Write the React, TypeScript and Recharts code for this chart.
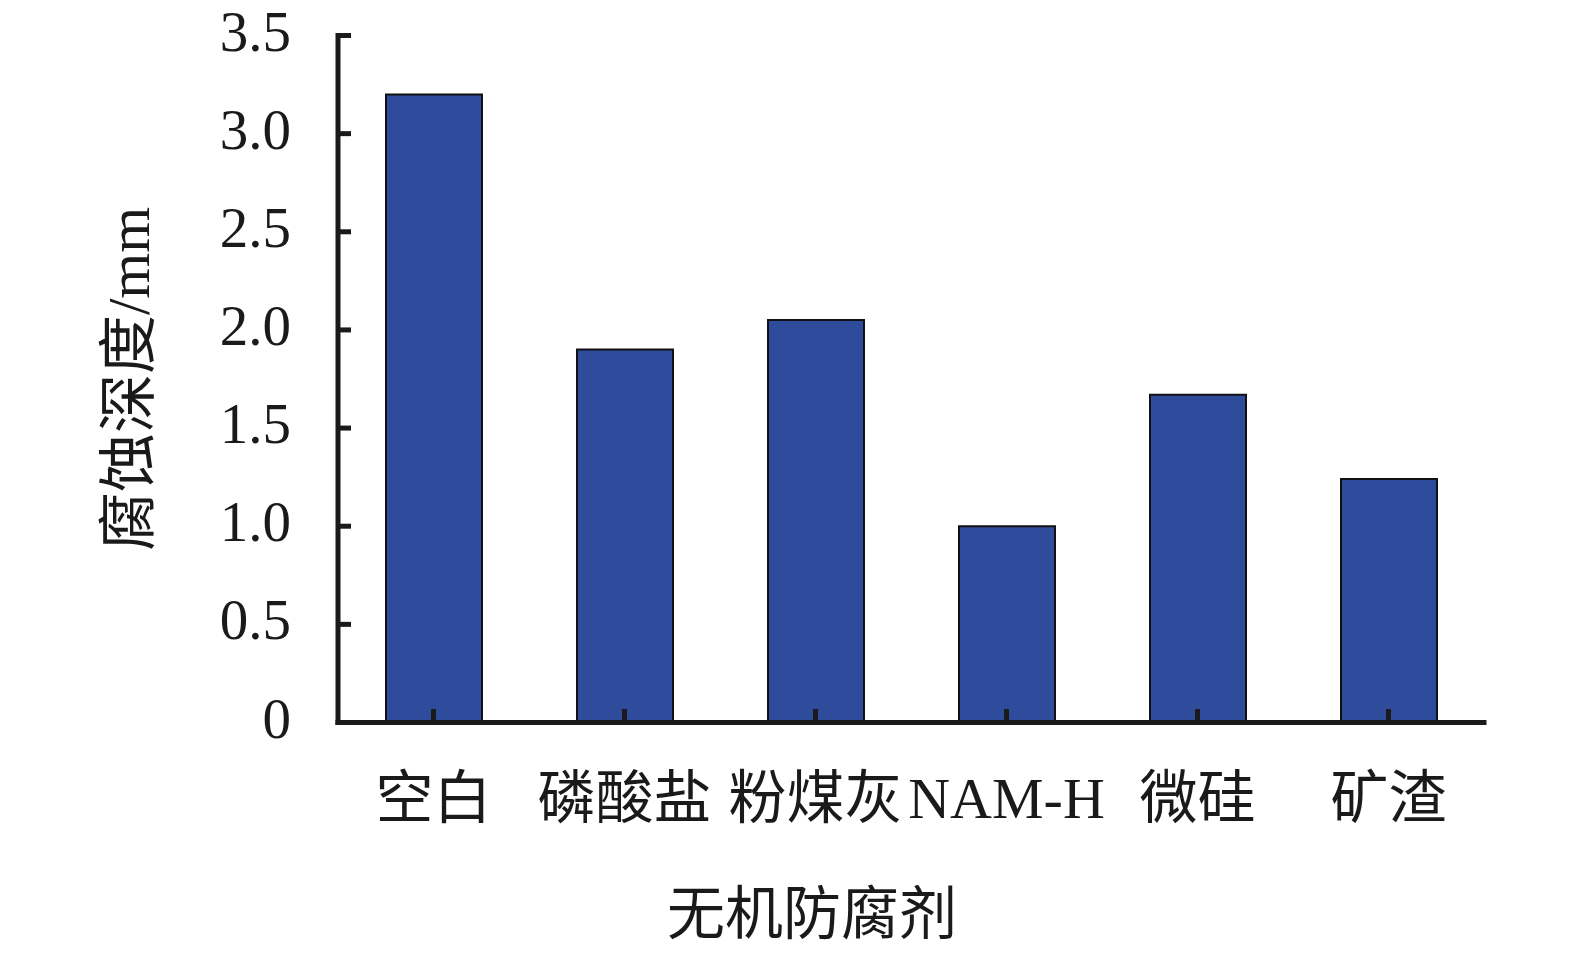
import React from 'react';
import { BarChart, Bar, XAxis, YAxis } from 'recharts';

// ---- data ----
const CATEGORIES = ['空白', '磷酸盐', '粉煤灰', 'NAM-H', '微硅', '矿渣'];
const DEPTH_MM = [3.2, 1.9, 2.05, 1.0, 1.67, 1.24];
const Y_TICKS = [0, 0.5, 1, 1.5, 2, 2.5, 3, 3.5];
const Y_TICK_LABELS = ['0', '0.5', '1.0', '1.5', '2.0', '2.5', '3.0', '3.5'];
const X_TITLE = '无机防腐剂';
const Y_TITLE = '腐蚀深度/mm';

const data = CATEGORIES.map((name, i) => ({ name, depth: DEPTH_MM[i] }));

// ---- layout / style ----
const CHART_W = 1575;
const CHART_H = 954;
const PLOT_LEFT = 338;
const PLOT_TOP = 35.5;
const X_AXIS_H = 231.5;
const RIGHT_MARGIN = 91;
const INK = '#1a1a1a';
const BAR_FILL = '#2f4b9b';
const FONT = "'Liberation Serif', 'Times New Roman', 'Noto Sans CJK SC', serif";

const YTick = (props: any) => {
  const { x, y, payload } = props;
  const idx = Y_TICKS.indexOf(payload.value);
  return (
    <g>
      <line x1={x} x2={x + 13} y1={y} y2={y} stroke={INK} strokeWidth={5} />
      <text x={x - 47} y={y + 15} textAnchor="end" fontSize={57} fontFamily={FONT} fill={INK}>
        {Y_TICK_LABELS[idx] ?? String(payload.value)}
      </text>
    </g>
  );
};

const XTick = (props: any) => {
  const { x, y, payload } = props;
  return (
    <g>
      <line x1={x} x2={x} y1={y} y2={y - 13.5} stroke={INK} strokeWidth={5} />
      <text x={x} y={y + 95.5} textAnchor="middle" fontSize={58} fontFamily={FONT} fill={INK}>
        {payload.value}
      </text>
    </g>
  );
};

const YTitle = () => {
  const cx = 149;
  const cy = PLOT_TOP + (CHART_H - X_AXIS_H - PLOT_TOP) / 2;
  return (
    <text
      x={cx}
      y={cy}
      transform={`rotate(-90 ${cx} ${cy})`}
      textAnchor="middle"
      fontSize={59}
      fontFamily={FONT}
      fill={INK}
    >
      {Y_TITLE}
    </text>
  );
};

const XTitle = () => (
  <text x={812} y={934} textAnchor="middle" fontSize={58} fontFamily={FONT} fill={INK}>
    {X_TITLE}
  </text>
);

export default function App() {
  return (
    <div style={{ position: 'absolute', left: 0, top: 0, width: CHART_W, height: CHART_H, background: '#fff' }}>
      <BarChart
        width={CHART_W}
        height={CHART_H}
        data={data}
        margin={{ top: PLOT_TOP, right: RIGHT_MARGIN, bottom: 0, left: 0 }}
        barCategoryGap="25%"
      >
        <Bar
          dataKey="depth"
          fill={BAR_FILL}
          stroke="#111"
          strokeWidth={2}
          barSize={96}
          isAnimationActive={false}
        />
        <XAxis
          dataKey="name"
          height={X_AXIS_H}
          interval={0}
          tickSize={0}
          tickMargin={0}
          tickLine={false}
          tick={<XTick />}
          axisLine={{ stroke: INK, strokeWidth: 5, strokeLinecap: 'square' }}
          label={{ content: () => <XTitle /> }}
        />
        <YAxis
          width={PLOT_LEFT}
          domain={[0, 3.5]}
          ticks={Y_TICKS}
          interval={0}
          tickSize={0}
          tickMargin={0}
          tickLine={false}
          tick={<YTick />}
          axisLine={{ stroke: INK, strokeWidth: 5, strokeLinecap: 'square' }}
          label={{ content: () => <YTitle /> }}
        />
      </BarChart>
    </div>
  );
}
